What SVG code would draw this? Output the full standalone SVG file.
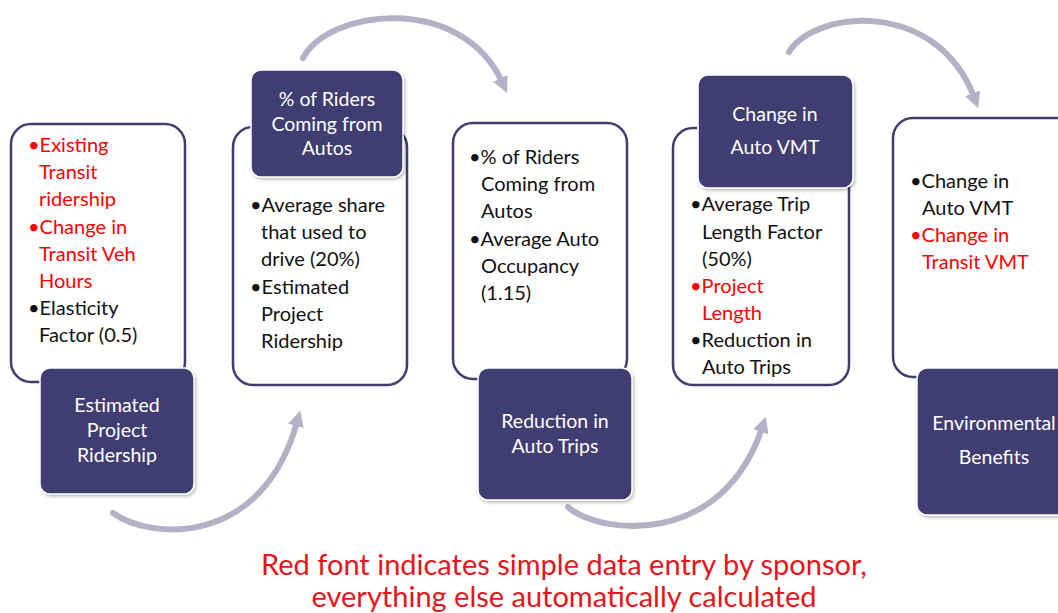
<svg xmlns="http://www.w3.org/2000/svg" width="1058" height="613" viewBox="0 0 1058 613">
<defs>
<style>
.card{fill:#ffffff;stroke:#3f3d72;stroke-width:2.5}
.head{fill:#3f3d73;stroke:#ffffff;stroke-width:1.5}
.t{font-family:Lato,"Open Sans",sans-serif;font-size:20px;fill:#111111}
.r{fill:#ff0000}
.w{font-family:Lato,"Open Sans",sans-serif;font-size:19.5px;fill:#ffffff;text-anchor:middle}
.arc{fill:none;stroke:#b3b1c6;stroke-width:6;stroke-linecap:round}
.cap{font-family:Lato,"Open Sans",sans-serif;font-size:29px;fill:#e8141c;text-anchor:middle}
</style>
<marker id="ah" markerUnits="userSpaceOnUse" markerWidth="20" markerHeight="20" viewBox="0 0 20 20" refX="4" refY="10" orient="auto">
<path d="M0,2 L16,10 L0,18 Z" fill="#b3b1c6"/>
</marker>
<filter id="sh" x="-10%" y="-10%" width="130%" height="130%">
<feDropShadow dx="1.5" dy="2" stdDeviation="1.5" flood-color="#000" flood-opacity="0.25"/>
</filter>
</defs>
<rect width="1058" height="613" fill="#ffffff"/>

<g id="connectors">
<path class="arc" d="M113,513 C150,540 262,548 297,422" marker-end="url(#ah)"/>
<path class="arc" d="M303,58 C330,8 462,-6 502,82" marker-end="url(#ah)"/>
<path class="arc" d="M568,507 C600,535 722,548 762,428" marker-end="url(#ah)"/>
<path class="arc" d="M789,52 C815,10 936,-2 974,97" marker-end="url(#ah)"/>
</g>

<g id="node1">
<rect class="card" x="11" y="124" width="174" height="258" rx="20"/>
<rect class="head" x="40" y="368" width="154" height="126" rx="10" filter="url(#sh)"/>
<text class="t r" x="28" y="152">•Existing</text>
<text class="t r" x="39" y="179">Transit</text>
<text class="t r" x="39" y="206">ridership</text>
<text class="t r" x="28" y="234">•Change in</text>
<text class="t r" x="39" y="261">Transit Veh</text>
<text class="t r" x="39" y="288">Hours</text>
<text class="t" x="28" y="315">•Elasticity</text>
<text class="t" x="39" y="342">Factor (0.5)</text>
<text class="w" x="117" y="412">Estimated</text>
<text class="w" x="117" y="437">Project</text>
<text class="w" x="117" y="462">Ridership</text>
</g>

<g id="node2">
<rect class="card" x="233" y="127" width="174" height="258" rx="20"/>
<rect class="head" x="251" y="70" width="152" height="107" rx="10" filter="url(#sh)"/>
<text class="w" x="327" y="106">% of Riders</text>
<text class="w" x="327" y="131">Coming from</text>
<text class="w" x="327" y="155">Autos</text>
<text class="t" x="250" y="212">•Average share</text>
<text class="t" x="261" y="239">that used to</text>
<text class="t" x="261" y="266">drive (20%)</text>
<text class="t" x="250" y="294">•Estimated</text>
<text class="t" x="261" y="321">Project</text>
<text class="t" x="261" y="348">Ridership</text>
</g>

<g id="node3">
<rect class="card" x="453" y="123" width="174" height="256" rx="20"/>
<rect class="head" x="478" y="368" width="154" height="132" rx="10" filter="url(#sh)"/>
<text class="t" x="469" y="164">•% of Riders</text>
<text class="t" x="481" y="191">Coming from</text>
<text class="t" x="481" y="218">Autos</text>
<text class="t" x="469" y="246">•Average Auto</text>
<text class="t" x="481" y="273">Occupancy</text>
<text class="t" x="481" y="300">(1.15)</text>
<text class="w" x="555" y="428">Reduction in</text>
<text class="w" x="555" y="453">Auto Trips</text>
</g>

<g id="node4">
<rect class="card" x="673" y="128" width="176" height="257" rx="20"/>
<rect class="head" x="698" y="75" width="155" height="113" rx="10" filter="url(#sh)"/>
<text class="w" x="775" y="121">Change in</text>
<text class="w" x="775" y="154">Auto VMT</text>
<text class="t" x="690" y="211">•Average Trip</text>
<text class="t" x="702" y="239">Length Factor</text>
<text class="t" x="702" y="266">(50%)</text>
<text class="t r" x="690" y="293">•Project</text>
<text class="t r" x="702" y="320">Length</text>
<text class="t" x="690" y="347">•Reduction in</text>
<text class="t" x="702" y="374">Auto Trips</text>
</g>

<g id="node5">
<rect class="card" x="893" y="118" width="190" height="259" rx="20"/>
<rect class="head" x="917" y="368" width="170" height="147" rx="10" filter="url(#sh)"/>
<text class="t" x="910" y="188">•Change in</text>
<text class="t" x="922" y="215">Auto VMT</text>
<text class="t r" x="910" y="242">•Change in</text>
<text class="t r" x="922" y="269">Transit VMT</text>
<text class="w" x="994" y="430">Environmental</text>
<text class="w" x="994" y="464">Benefits</text>
</g>

<g id="caption">
<text class="cap" x="564" y="575">Red font indicates simple data entry by sponsor,</text>
<text class="cap" x="564" y="607">everything else automatically calculated</text>
</g>
</svg>
